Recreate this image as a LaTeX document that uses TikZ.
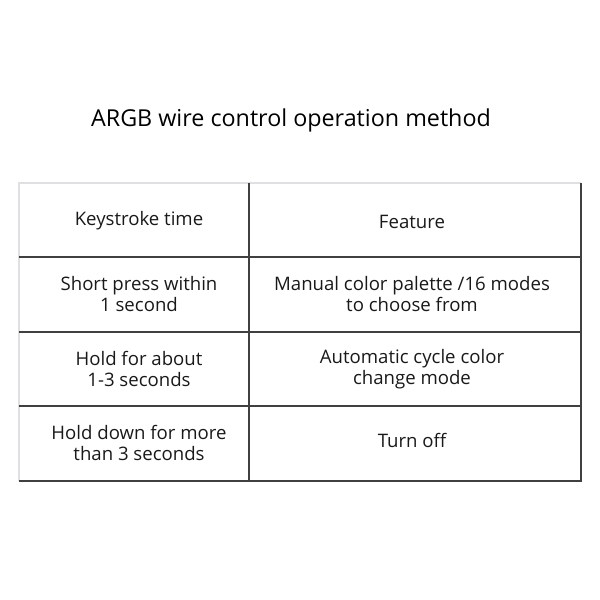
\documentclass[tikz,border=0pt]{standalone}
\usepackage{fontspec}
\setmainfont{Open Sans}
\begin{document}
\begin{tikzpicture}[x=1pt,y=-1pt,
  cell/.style={align=center,font=\fontsize{18.6}{21.5}\selectfont,text=black!90},
  grid/.style={draw=black!75,line width=2pt},
  faint/.style={draw=blue!10!black!12,line width=1.5pt}]
\useasboundingbox (0,0) rectangle (600,600);
\node[font=\fontsize{23.3}{28}\selectfont] (title) at (291,120) {ARGB wire control operation method};
\coordinate (tl) at (19,183);
\coordinate (tr) at (581,183);
\coordinate (bl) at (19,481);
\coordinate (br) at (581,481);
\coordinate (mt) at (249,183);
\coordinate (mb) at (249,481);
\draw[faint] (bl) -- (tl) -- (tr);
\draw[grid] (mt) -- (mb);
\draw[grid] (tr) -- (br) -- (bl);
\foreach \y/\n in {257/a,332/b,406/c}{
  \coordinate (l\n) at (19,\y);
  \coordinate (r\n) at (581,\y);
  \draw[grid] (l\n) -- (r\n);
}
\node[cell] (k1) at (139,221) {Keystroke time};
\node[cell] (f1) at (412,222) {Feature};
\node[cell] (k2) at (139,294) {Short press within\\1 second};
\node[cell] (f2) at (412,294) {Manual color palette /16 modes\\to choose from};
\node[cell] (k3) at (139,369) {Hold for about\\1-3 seconds};
\node[cell] (f3) at (412,369) {Automatic cycle color\\change mode};
\node[cell] (k4) at (139,443) {Hold down for more\\than 3 seconds};
\node[cell] (f4) at (412,440) {Turn off};
\end{tikzpicture}
\end{document}
